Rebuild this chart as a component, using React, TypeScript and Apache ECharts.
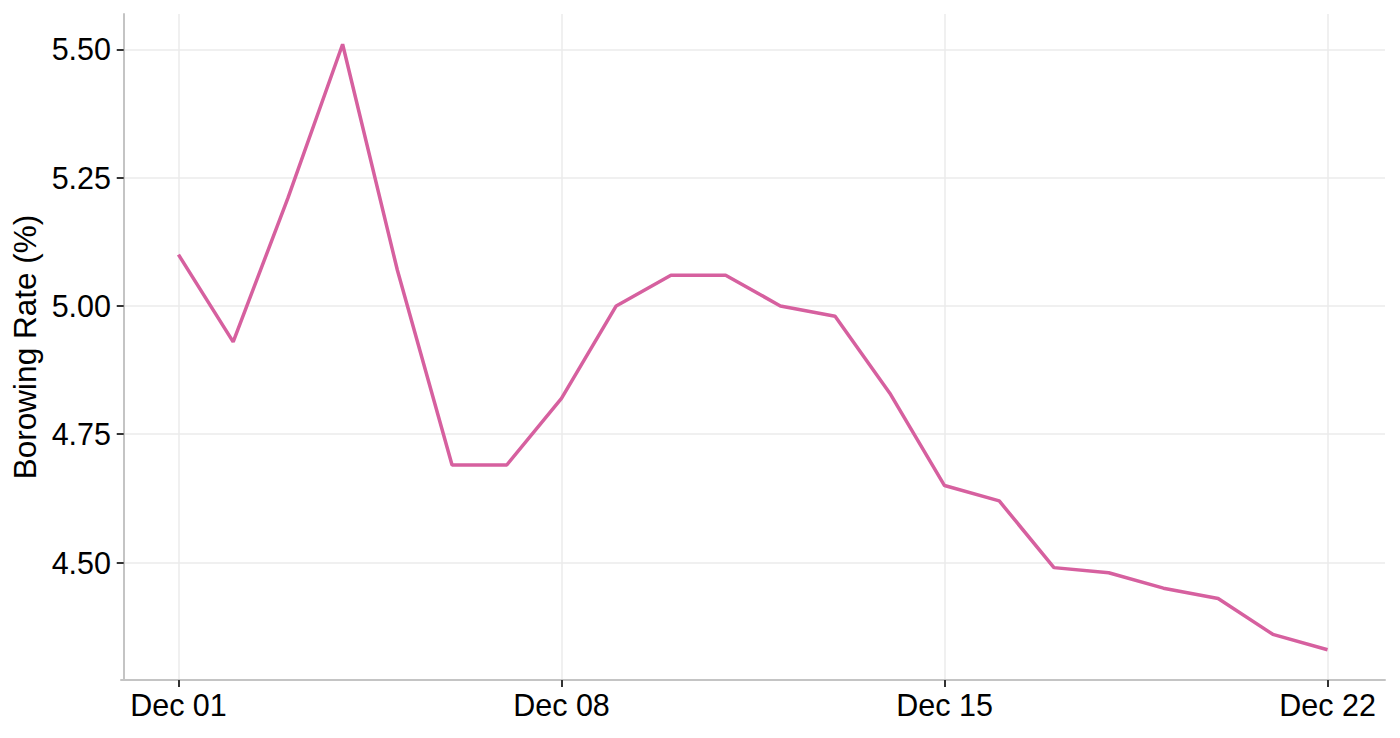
// Borrowing rate over December — single line, ggplot-like styling.
import * as React from "react";
import * as echarts from "echarts";

const days = [1, 2, 3, 4, 5, 6, 7, 8, 9, 10, 11, 12, 13, 14, 15, 16, 17, 18, 19, 20, 21, 22];
const rates = [
  5.1, 4.93, 5.21, 5.51, 5.07, 4.69, 4.69, 4.82, 5.0, 5.06, 5.06,
  5.0, 4.98, 4.83, 4.65, 4.62, 4.49, 4.48, 4.45, 4.43, 4.36, 4.33,
];
const xTicks = [1, 8, 15, 22];
const yTicks = [4.5, 4.75, 5.0, 5.25, 5.5];
const yTitle = "Borowing Rate (%)";

const FONT = "'Liberation Sans', Arial, Helvetica, sans-serif";

export default function App() {
  const ref = React.useRef<HTMLDivElement | null>(null);

  React.useEffect(() => {
    if (!ref.current) return;
    const chart = echarts.init(ref.current, undefined, { renderer: "svg" });
    // ggplot 식 5% 확장
    const dx = (days[days.length - 1] - days[0]) * 0.05;
    const yMin = Math.min(...rates);
    const yMax = Math.max(...rates);
    const dy = (yMax - yMin) * 0.05;

    chart.setOption({
      animation: false,
      backgroundColor: "#ffffff",
      grid: { left: 121, right: 15, top: 14, bottom: 58, containLabel: false },
      xAxis: {
        type: "value",
        min: days[0] - dx,
        max: days[days.length - 1] + dx,
        axisLine: { show: true, onZero: false, lineStyle: { color: "#c4c4c4", width: 2 } },
        axisTick: { show: true, customValues: xTicks, length: 7, lineStyle: { color: "#333333", width: 2 } },
        axisLabel: {
          customValues: xTicks,
          margin: 9,
          fontFamily: FONT,
          fontSize: 30.5,
          color: "#000000",
          formatter: (v: number) => "Dec " + String(v).padStart(2, "0"),
        },
        splitLine: { show: true, customValues: xTicks, lineStyle: { color: "#ebebeb", width: 1.5 } },
      },
      yAxis: {
        type: "value",
        min: yMin - dy,
        max: yMax + dy,
        name: yTitle,
        nameLocation: "middle",
        nameGap: 80,
        nameTextStyle: { fontFamily: FONT, fontSize: 31.5, color: "#000000" },
        axisLine: { show: true, lineStyle: { color: "#c4c4c4", width: 2 } },
        axisTick: { show: true, customValues: yTicks, length: 7, lineStyle: { color: "#333333", width: 2 } },
        axisLabel: {
          customValues: yTicks,
          margin: 10,
          fontFamily: FONT,
          fontSize: 30.5,
          color: "#000000",
          formatter: (v: number) => v.toFixed(2),
        },
        splitLine: { show: true, customValues: yTicks, lineStyle: { color: "#ebebeb", width: 1.5 } },
      },
      series: [
        {
          type: "line",
          data: days.map((d, i) => [d, rates[i]]),
          showSymbol: false,
          lineStyle: { color: "#d6609f", width: 3.5 },
          itemStyle: { color: "#d6609f" },
        },
      ],
    });
    return () => chart.dispose();
  }, []);

  return (
    <div
      ref={ref}
      style={{ position: "absolute", left: 0, top: 0, width: 1400, height: 738 }}
    />
  );
}
